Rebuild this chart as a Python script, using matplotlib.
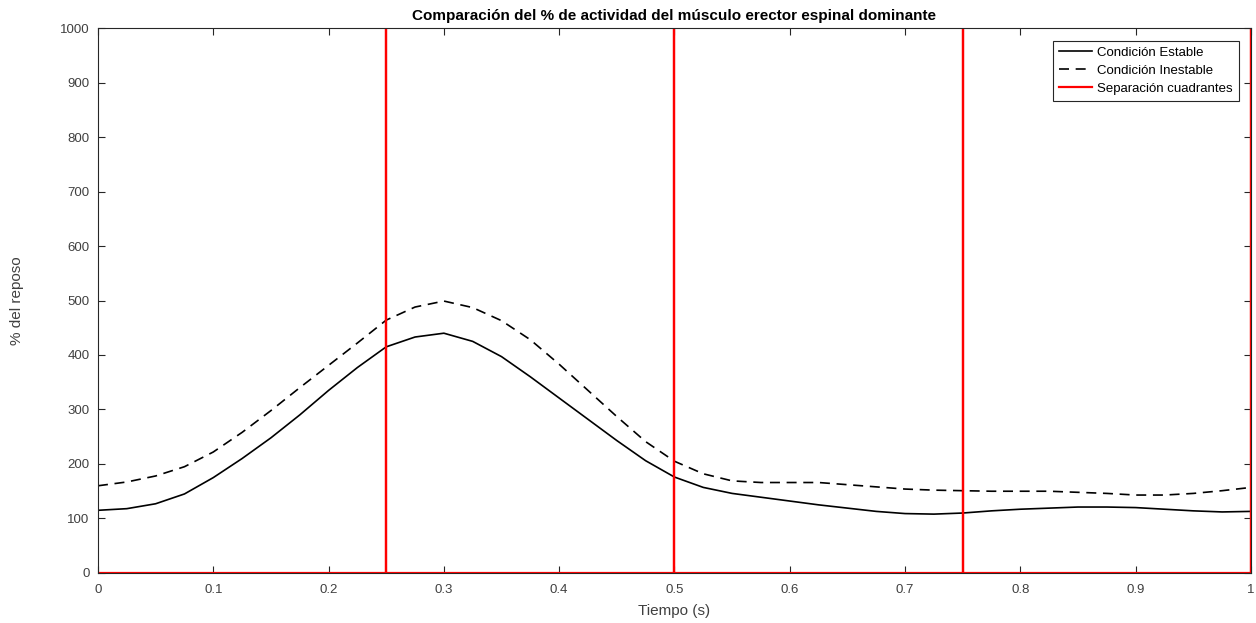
import numpy as np
import matplotlib
matplotlib.use("Agg")
import matplotlib.pyplot as plt

plt.rcParams['font.family'] = ['Liberation Sans', 'DejaVu Sans']

t = [0.000, 0.025, 0.050, 0.075, 0.100, 0.125, 0.150, 0.175, 0.200, 0.225,
     0.250, 0.275, 0.300, 0.325, 0.350, 0.375, 0.400, 0.425, 0.450, 0.475,
     0.500, 0.525, 0.550, 0.575, 0.600, 0.625, 0.650, 0.675, 0.700, 0.725,
     0.750, 0.775, 0.800, 0.825, 0.850, 0.875, 0.900, 0.925, 0.950, 0.975, 1.000]
estable = [115, 118, 127, 145, 175, 210, 248, 290, 335, 377,
           415, 433, 440, 425, 397, 360, 321, 282, 243, 206,
           176, 157, 146, 139, 132, 125, 119, 113, 109, 108,
           110, 114, 117, 119, 121, 121, 120, 117, 114, 112, 113]
inestable = [160, 167, 178, 195, 222, 258, 298, 340, 381, 422,
             464, 488, 499, 487, 463, 428, 383, 335, 287, 241,
             205, 182, 169, 166, 166, 166, 162, 158, 154, 152,
             151, 150, 150, 150, 148, 146, 143, 143, 146, 151, 157]
separaciones = [0.25, 0.5, 0.75, 1.0]
sep_altura = 1000

# Separation signal: zero baseline with spikes at quadrant boundaries
sx = [0.0]
sy = [0]
for s in separaciones:
    sx += [s, s, s]
    sy += [0, sep_altura, 0]

fig = plt.figure(figsize=(12.56, 6.23), dpi=100)
ax = fig.add_axes([0.078, 0.0803, 0.918, 0.8747])

ax.plot(t, estable, color='black', lw=1.2, label='Condición Estable',
        solid_joinstyle='round')
ax.plot(t, inestable, color='black', lw=1.2, ls=(0, (6, 4)), label='Condición Inestable')
ax.plot(sx, sy, color='#ff0000', lw=1.6, label='Separación cuadrantes')

ax.set_xlim(0, 1)
ax.set_ylim(0, 1000)
ax.set_xticks(np.arange(0, 1.01, 0.1))
ax.set_xticklabels(['0', '0.1', '0.2', '0.3', '0.4', '0.5', '0.6', '0.7', '0.8', '0.9', '1'])
ax.set_yticks(np.arange(0, 1001, 100))

gray = '#262626'
for sp in ax.spines.values():
    sp.set_color(gray)
    sp.set_linewidth(0.8)
ax.tick_params(direction='in', top=True, right=True, length=5, width=0.8,
               colors=gray, labelsize=9.5, labelcolor='#404040')
ax.tick_params(axis='x', pad=8)
ax.tick_params(axis='y', pad=6)

ax.set_title('Comparación del % de actividad del músculo erector espinal dominante',
             fontsize=11, fontweight='bold', color='black', pad=6)
ax.set_xlabel('Tiempo (s)', fontsize=11, color='#404040', labelpad=6)
ax.set_ylabel('% del reposo', fontsize=11, color='#404040', labelpad=26)

leg = ax.legend(loc='upper right', fontsize=9.5, frameon=True, fancybox=False,
                edgecolor=gray, framealpha=1, handlelength=2.5, handletextpad=0.4,
                borderpad=0.45, labelspacing=0.45, borderaxespad=0,
                bbox_to_anchor=(0.9895, 0.977))
leg.get_frame().set_linewidth(0.8)

fig.savefig('out.png', dpi=100)
